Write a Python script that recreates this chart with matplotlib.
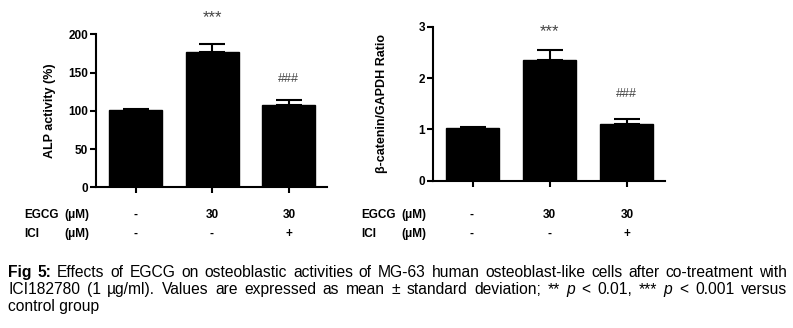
import matplotlib
matplotlib.use("Agg")
from matplotlib import pyplot as plt

plt.rcParams['font.family'] = ['Liberation Sans', 'DejaVu Sans']

# 数据
groups = ['ctrl', 'EGCG', 'EGCG+ICI']
alp_mean = [101, 177, 107]
alp_err = [1.7, 10.7, 7]
cat_mean = [1.02, 2.345, 1.11]
cat_err = [0.03, 0.2, 0.1]
egcg_row = ['-', '30', '30']
ici_row = ['-', '-', '+']

W, H = 793, 328
fig = plt.figure(figsize=(W / 100, H / 100), dpi=100)


def px(x, y):
    return x / W, 1 - y / H


def bar_panel(rect, means, errs, ymax, yticks, ylabel, pad, stars, hashes):
    ax = fig.add_axes(rect)
    x = list(range(len(means)))
    ax.bar(x, means, width=0.69, color='black', edgecolor='black')
    ax.errorbar(x, means, yerr=[[0] * len(errs), errs], fmt='none',
                ecolor='black', elinewidth=1.5, capsize=9.5, capthick=1.5)
    ax.set_xlim(-0.52, 2.5)
    ax.set_ylim(0, ymax)
    ax.set_xticks(x)
    ax.set_xticklabels([])
    ax.set_yticks(yticks)
    for s in ['top', 'right']:
        ax.spines[s].set_visible(False)
    for s in ['left', 'bottom']:
        ax.spines[s].set_linewidth(1.5)
    ax.tick_params(axis='both', direction='out', length=4, width=1.5,
                   labelsize=8.5, pad=1.5)
    for lab in ax.get_yticklabels():
        lab.set_fontweight('bold')
    ax.set_ylabel(ylabel, fontsize=9, fontweight='bold', labelpad=pad)
    ax.text(1, stars, '***', ha='center', va='center', fontsize=12,
            color='#444444', clip_on=False)
    ax.text(2, hashes, '###', ha='center', va='center', fontsize=9,
            color='#444444')
    return ax


bar_panel([96 / W, 1 - 187.3 / H, 231 / W, 153 / H], alp_mean, alp_err, 200,
          [0, 50, 100, 150, 200], 'ALP activity (%)', 9, 222, 142)
bar_panel([433 / W, 1 - 180.7 / H, 232 / W, 154 / H], cat_mean, cat_err, 3,
          [0, 1, 2, 3], 'β-catenin/GAPDH Ratio', 22, 2.9, 1.69)

# 表格行
tab = dict(fontsize=8.5, fontweight='bold', va='center')
for x0, xcols in [(24, [136, 212, 289]), (361, [472, 549, 627])]:
    fig.text(*px(x0, 215), 'EGCG', **tab)
    fig.text(*px(x0 + 65, 215), '(μM)', ha='right', **tab)
    fig.text(*px(x0, 234), 'ICI', **tab)
    fig.text(*px(x0 + 65, 234), '(μM)', ha='right', **tab)
    for xc, a, b in zip(xcols, egcg_row, ici_row):
        fig.text(*px(xc, 215), a, ha='center', **tab)
        fig.text(*px(xc, 234), b, ha='center', **tab)

# 图注（两端对齐）
line1 = [('Fig', 'bold', 'normal'), ('5:', 'bold', 'normal')] + \
    [(w, 'normal', 'normal') for w in
     'Effects of EGCG on osteoblastic activities of MG-63 human osteoblast-like cells after co-treatment with'.split()]
line2 = [(w, 'normal', 'normal') for w in
         'ICI182780 (1 µg/ml). Values are expressed as mean ± standard deviation; **'.split()] + \
    [('p', 'normal', 'italic'), ('<', 'normal', 'normal'), ('0.01,', 'normal', 'normal'),
     ('***', 'normal', 'normal'), ('p', 'normal', 'italic'), ('<', 'normal', 'normal'),
     ('0.001', 'normal', 'normal'), ('versus', 'normal', 'normal')]

renderer = fig.canvas.get_renderer()
x_left, x_right = 8, 787

# 按第一行自然宽度定字号
probe = fig.text(0, 0, ' '.join(w for w, _, _ in line1), fontsize=10)
nat = probe.get_window_extent(renderer).width
probe.remove()
cap_size = 10 * (x_right - x_left) * 0.97 / nat


def justify(words, ybase):
    texts = []
    total = 0
    for w, weight, style in words:
        t = fig.text(0, 0, w, fontsize=cap_size, fontweight=weight,
                     fontstyle=style, va='baseline')
        wd = t.get_window_extent(renderer).width
        texts.append((t, wd))
        total += wd
    gap = (x_right - x_left - total) / (len(words) - 1)
    x = x_left
    for t, wd in texts:
        t.set_position(px(x, ybase))
        x += wd + gap


justify(line1, 277)
justify(line2, 294)
fig.text(*px(x_left, 311), 'control group', fontsize=cap_size, va='baseline')

fig.savefig('out.png', dpi=100)
